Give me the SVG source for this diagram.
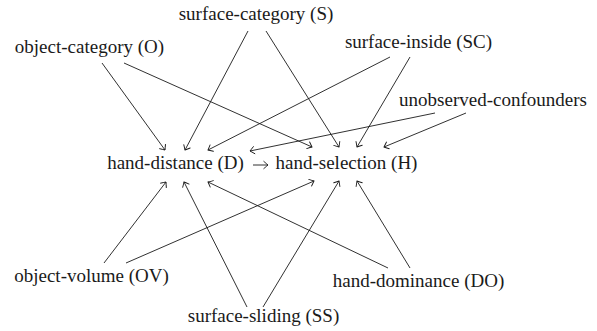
<svg xmlns="http://www.w3.org/2000/svg" width="597" height="331" viewBox="0 0 597 331">
<defs>
<marker id="to" markerUnits="userSpaceOnUse" markerWidth="12" markerHeight="12" refX="0" refY="0" viewBox="-6 -6 12 12" orient="auto" overflow="visible">
<path d="M-4.2,-3.6 Q-1.2,-1 0,0 Q-1.2,1 -4.2,3.6" fill="none" stroke="#1a1a1a" stroke-width="0.9" stroke-linecap="round"/>
</marker>
</defs>
<rect width="597" height="331" fill="#fff"/>
<g id="connectors" stroke="#1a1a1a" stroke-width="0.9" fill="none" marker-end="url(#to)">
<path d="M102,63 L165,150"/>
<path d="M124,63 L312,147"/>
<path d="M248,31 L185,150"/>
<path d="M266,31 L339,147"/>
<path d="M390,57 L208,150"/>
<path d="M410,57 L357,147"/>
<path d="M435,113 L250,151"/>
<path d="M466,113 L384,147"/>
<path d="M104,263 L166,182"/>
<path d="M126,263 L314,181"/>
<path d="M247,307 L184,182"/>
<path d="M263,307 L339,181"/>
<path d="M388,268 L208,182"/>
<path d="M410,268 L357,181"/>
<path d="M253,165 L268,165"/>
</g>
<g id="node-O"><text font-family="'Liberation Serif', serif" font-size="19" fill="#1a1a1a" text-anchor="middle" x="89.5" y="53">object-category (O)</text></g>
<g id="node-S"><text font-family="'Liberation Serif', serif" font-size="19" fill="#1a1a1a" text-anchor="middle" x="256" y="20">surface-category (S)</text></g>
<g id="node-SC"><text font-family="'Liberation Serif', serif" font-size="19" fill="#1a1a1a" text-anchor="middle" x="418.5" y="48">surface-inside (SC)</text></g>
<g id="node-U"><text font-family="'Liberation Serif', serif" font-size="19" fill="#1a1a1a" text-anchor="middle" x="493" y="106">unobserved-confounders</text></g>
<g id="node-D"><text font-family="'Liberation Serif', serif" font-size="19" fill="#1a1a1a" text-anchor="middle" x="175.5" y="169">hand-distance (D)</text></g>
<g id="node-H"><text font-family="'Liberation Serif', serif" font-size="19" fill="#1a1a1a" text-anchor="middle" x="346.5" y="169">hand-selection (H)</text></g>
<g id="node-OV"><text font-family="'Liberation Serif', serif" font-size="19" fill="#1a1a1a" text-anchor="middle" x="91.5" y="282">object-volume (OV)</text></g>
<g id="node-SS"><text font-family="'Liberation Serif', serif" font-size="19" fill="#1a1a1a" text-anchor="middle" x="263.5" y="322">surface-sliding (SS)</text></g>
<g id="node-DO"><text font-family="'Liberation Serif', serif" font-size="19" fill="#1a1a1a" text-anchor="middle" x="418.5" y="287">hand-dominance (DO)</text></g>
</svg>
